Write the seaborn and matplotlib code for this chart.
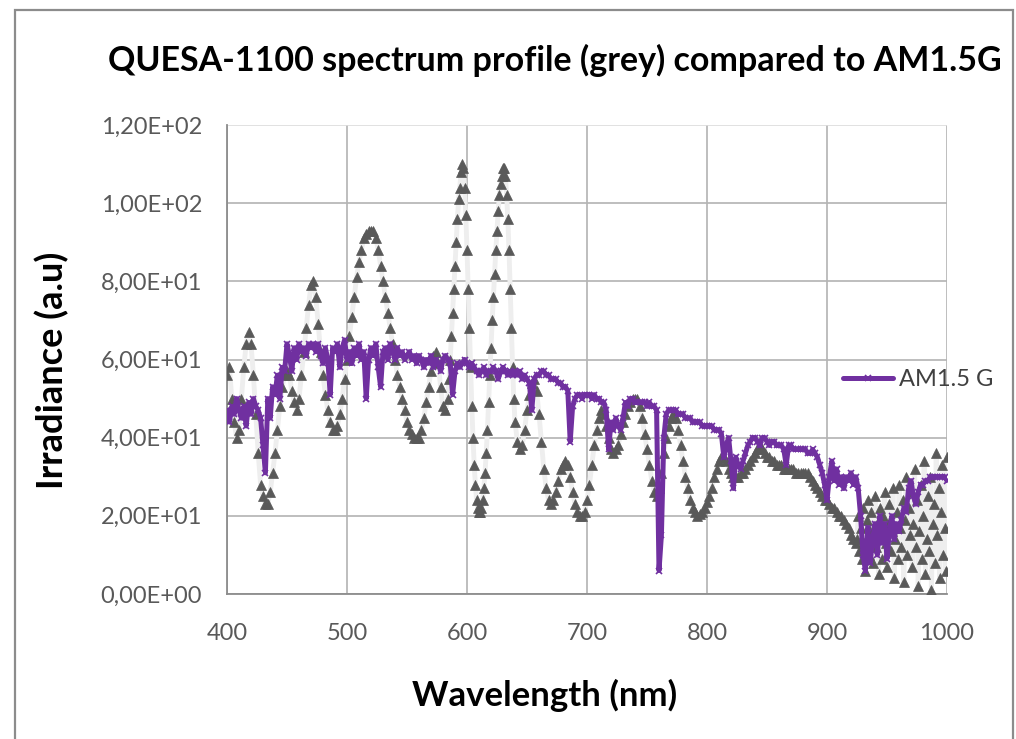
import numpy as np
import pandas as pd
import matplotlib
matplotlib.use("Agg")
import matplotlib.pyplot as plt
from matplotlib.patches import Rectangle
from matplotlib.ticker import FuncFormatter
import seaborn as sns

# ---------------- data ----------------
# QUESA-1100 spectrum (grey triangles)
quesa_wl = np.concatenate([np.arange(400, 584, 2), np.arange(584, 641, 1),
                           np.arange(642, 925, 2), np.arange(925, 1001, 1)])
quesa_a = [56, 58, 50, 44, 40, 42, 50, 58, 64, 67, 64, 56, 46, 36, 28, 25, 23, 23, 26, 31,
           36, 42, 48, 53, 56, 57, 56, 52, 49, 47, 50, 56, 62, 68, 74, 79, 80, 76, 69, 62,
           56, 51, 47, 44, 42, 42, 43, 46, 50, 55, 60, 66, 71, 76, 81, 85, 88, 91, 92, 93,
           93, 93, 91, 88, 84, 80, 76, 72, 68, 64, 60, 56, 53, 50, 47, 44, 42, 41, 40, 40,
           40, 42, 45, 49, 53, 57, 61, 62, 59, 53, 48, 47]
quesa_b = [50, 55, 60, 66, 72, 78, 84, 90, 96, 101, 104, 108, 110, 109, 104, 97, 88, 78, 68, 58,
           48, 40, 33, 28, 24, 22, 21, 21, 22, 24, 27, 31, 36, 42, 49, 56, 63, 70, 76, 82,
           88, 93, 98, 102, 105, 107, 109, 109, 107, 102, 96, 88, 78, 68, 58, 50, 44]
quesa_c = [39, 37, 38, 42, 47, 51, 54, 55, 52, 46, 39, 32, 27, 24, 23, 24, 26, 29, 32, 33,
           34, 33, 30, 26, 23, 21, 20, 20, 21, 24, 28, 33, 38, 42, 45, 47, 46, 43, 40, 37,
           36, 37, 38, 41, 44, 46, 48, 49, 50, 50, 50, 48, 45, 41, 37, 33, 29, 26, 25, 27,
           31, 36, 40, 43, 45, 46, 45, 42, 38, 34, 30, 27, 24, 22, 21, 20, 20.5, 21, 22, 23.5,
           25, 27, 30, 32, 34, 35, 35, 34, 32, 31, 30, 30, 30, 31, 31, 32, 33, 34, 35, 36,
           37, 38, 37, 36, 35, 35, 34, 34, 33, 33, 33, 32, 32, 32, 32, 32, 31, 31, 31, 31,
           31, 31, 30, 29, 28, 27, 26, 25, 24, 24, 23, 22, 22, 21, 20, 20, 19, 18, 17, 15,
           14, 13]
quesa_d = [14, 20, 11, 17, 9, 22, 13, 6, 19, 24, 10, 16, 21, 8, 14, 25, 12, 18, 5, 22,
           15, 9, 20, 26, 13, 7, 18, 23, 11, 16, 27, 4, 14, 21, 9, 28, 17, 12, 24, 3,
           19, 30, 10, 22, 15, 26, 7, 18, 32, 12, 24, 2, 16, 28, 9, 20, 34, 5, 14, 25,
           11, 30, 1, 18, 23, 8, 36, 15, 27, 4, 21, 33, 10, 17, 6, 35]
quesa = np.array(quesa_a + quesa_b + quesa_c + quesa_d, dtype=float)

# AM1.5 G reference spectrum (purple line)
am_wl = np.arange(400, 1001, 2)
am15g = np.array([
    47, 44, 48, 46, 50, 47, 45, 48, 43, 49, 46, 50, 48, 47, 45, 38, 31, 50, 45, 53,
    51, 56, 50, 58, 57, 64, 61, 57, 63, 60, 64, 62, 63, 61, 64, 63, 64, 62, 64, 61,
    59, 63, 60, 51, 63, 62, 64, 58, 63, 65, 60, 62, 59, 63, 61, 64, 60, 62, 50, 60,
    63, 61, 64, 58, 53, 62, 63, 60, 64, 62, 60, 63, 61, 62, 60, 61, 62, 60, 61, 59,
    61, 60, 58, 60, 59, 61, 58, 60, 59, 57, 60, 61, 60, 59, 51, 57, 59, 58, 59, 60,
    59, 58, 59, 58, 57, 56, 57, 58, 56, 57, 57, 58, 57, 55, 57, 58, 57, 56, 57, 56,
    57, 56, 57, 55, 56, 55, 54, 47, 55, 56, 56, 57, 57, 56, 56, 55, 55, 55, 54, 54,
    53, 53, 52, 39, 48, 50, 51, 51, 50, 51, 51, 51, 50, 51, 50, 50, 49, 49, 47, 37,
    44, 42, 45, 43, 42, 45, 49, 48, 50, 50, 49, 49, 49, 49, 49, 48, 49, 48, 48, 47,
    6, 15, 40, 46, 47, 47, 47, 47, 46, 46, 46, 45, 45, 45, 44, 44, 44, 44, 43, 43,
    43, 43, 43, 42, 42, 42, 41, 35, 38, 40, 34, 27, 35, 33, 32, 34, 36, 38, 39, 40,
    40, 39, 38, 40, 40, 39, 38, 39, 39, 38, 38, 38, 37, 33, 38, 38, 37, 37, 37, 37,
    37, 37, 36, 36, 37, 36, 35, 33, 31, 28, 24, 30, 34, 29, 32, 28, 30, 27, 30, 29,
    31, 28, 30, 27, 20, 10, 6, 17, 8, 14, 18, 10, 20, 13, 18, 9, 16, 20, 14, 18,
    16, 19, 22, 21, 27, 29, 25, 23, 26, 28, 28, 29, 29, 30, 30, 30, 30, 30, 30, 30,
    29], dtype=float)

x_ticks = [400, 500, 600, 700, 800, 900, 1000]
y_ticks = [0, 20, 40, 60, 80, 100, 120]
title = "QUESA-1100 spectrum profile (grey) compared to AM1.5G"
x_label = "Wavelength (nm)"
y_label = "Irradiance (a.u)"
legend_label = "AM1.5 G"

# ---------------- style ----------------
sns.set_theme(style="white")
plt.rcParams["font.family"] = ["Lato", "DejaVu Sans"]

W, H = 1016, 739
fig = plt.figure(figsize=(W / 100, H / 100), dpi=100)
ax = fig.add_axes([227 / W, 1 - 594 / H, (947 - 227) / W, (594 - 125) / H])

df_q = pd.DataFrame({"wl": quesa_wl, "val": quesa})
df_a = pd.DataFrame({"wl": am_wl, "val": am15g})

sns.lineplot(data=df_q, x="wl", y="val", ax=ax, color="#eeeeee", lw=3.5,
             marker="^", markersize=7.5, markerfacecolor="#595959",
             markeredgecolor="#595959", markeredgewidth=0.5,
             estimator=None, sort=False, zorder=3)
sns.lineplot(data=df_a, x="wl", y="val", ax=ax, color="#7030A0", lw=3.6,
             marker="x", markersize=4, markeredgecolor="#7030A0",
             markeredgewidth=1.2, estimator=None, sort=False, zorder=4)

ax.set_xlim(400, 1000)
ax.set_ylim(0, 120)
ax.set_xticks(x_ticks)
ax.set_yticks(y_ticks)
ax.yaxis.set_major_formatter(FuncFormatter(lambda v, p: f"{v:.2E}".replace(".", ",")))
ax.set_xlabel("")
ax.set_ylabel("")

ax.grid(True, color="#b3b3b3", lw=1.2, zorder=0)
ax.set_axisbelow(True)
for s in ["top", "right"]:
    ax.spines[s].set_visible(False)
for s in ["left", "bottom"]:
    ax.spines[s].set_color("#8c8c8c")
    ax.spines[s].set_linewidth(1.3)
ax.tick_params(axis="both", which="both", direction="out", length=7, width=1.2,
               color="#8c8c8c", labelcolor="#595959", labelsize=17)
ax.tick_params(axis="x", pad=14)
ax.tick_params(axis="y", pad=11)
gl = ax.get_ygridlines()
gl[-1].set_color("#dcdcdc")
ax.set_facecolor("white")

# legend (only AM1.5 G)
handles = ax.get_lines()
ax.legend(handles=[handles[1]], labels=[legend_label], frameon=False,
          loc="center left", bbox_to_anchor=(822 / W, 1 - 380 / H),
          bbox_transform=fig.transFigure, fontsize=17, handlelength=2.1,
          handletextpad=0.25, borderaxespad=0.5, labelcolor="#404040")

fig.text(555 / W, 1 - 60 / H, title, ha="center", va="center",
         fontsize=24.5, fontweight="bold", color="black")
fig.text(545 / W, 1 - 695 / H, x_label, ha="center", va="center",
         fontsize=25, fontweight="bold", color="black")
fig.text(52 / W, 1 - 370 / H, y_label, ha="center", va="center", rotation=90,
         fontsize=26, fontweight="bold", color="black")

# chart-area border
fig.patches.append(Rectangle((15 / W, -0.05), (1013 - 15) / W, 1.05 - 9.5 / H,
                             transform=fig.transFigure, fill=False,
                             edgecolor="#8c8c8c", lw=1.6, zorder=10))

fig.savefig("out.png", dpi=100)
